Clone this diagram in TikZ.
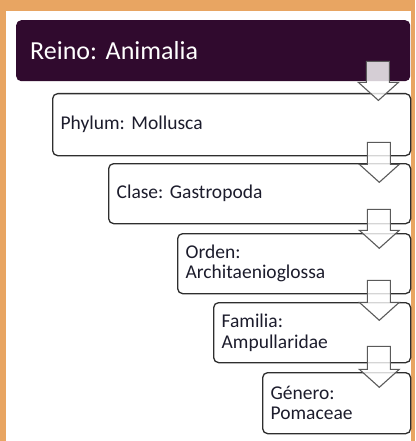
\documentclass[tikz,border=0pt]{standalone}
\usepackage{fontspec}
\setmainfont{Carlito}
\frenchspacing
\usetikzlibrary{calc}
\definecolor{bgorange}{HTML}{E8A562}
\definecolor{reinopurple}{HTML}{300A2E}
\definecolor{boxline}{HTML}{2E2E2E}
\definecolor{txt}{HTML}{1C1C2C}
\definecolor{arrline}{HTML}{5A5A5A}
\newcommand{\taxbox}[6]{% name, left, top, right, bottom, text
  \node[taxstyle, anchor=north west, minimum width={#4-#2}, minimum height={#5-#3},
        text width={#4-#2-16}] (#1) at (#2,#3) {#6};}
\newcommand{\blockarr}[4]{% upper, lower, shaft top offset, head base offset
  \draw[blockarrow]
    ($(#1.south east)+(-44,#3)$) -- ($(#1.south east)+(-21,#3)$)
    -- ($(#1.south east)+(-21,#4)$) -- ($(#1.south east)+(-12,#4)$)
    -- ($(#1.south east)+(-32,#4+18)$)
    -- ($(#1.south east)+(-52,#4)$) -- ($(#1.south east)+(-44,#4)$) -- cycle;}
\begin{document}
\begin{tikzpicture}[x=1pt,y=-1pt,
  taxstyle/.style={draw=boxline, line width=1.3pt, rounded corners=5pt, fill=white,
    inner xsep=8pt, inner ysep=0pt, align=left, text=txt,
    font=\fontsize{19.5}{20.5}\selectfont},
  reinostyle/.style={fill=reinopurple, rounded corners=5pt, inner xsep=14pt, inner ysep=0pt,
    align=left, text=white, font=\fontsize{26}{30}\selectfont},
  blockarrow/.style={draw=arrline, line width=1.1pt, fill=white, fill opacity=0.8, line join=miter}]
\useasboundingbox (0,0) rectangle (415,441);
\fill[bgorange] (0,0) rectangle (415,441);
\fill[white] (6,11) rectangle (411,441);
\node[reinostyle, anchor=north west, minimum width=394, minimum height=61, text width=366]
  (reino) at (16,20) {Reino: Animalia};
\taxbox{phylum}{52}{93}{410}{155}{Phylum: Mollusca}
\taxbox{clase}{108}{163}{410}{223}{Clase: Gastropoda}
\taxbox{orden}{177}{233}{410}{293}{Orden:\\Architaenioglossa}
\taxbox{familia}{213}{302}{410}{362}{Familia:\\Ampullaridae}
\taxbox{genero}{262}{372}{410}{433}{Género:\\Pomaceae}
\blockarr{reino}{phylum}{-20}{1}
\blockarr{phylum}{clase}{-14}{8}
\blockarr{clase}{orden}{-15}{6}
\blockarr{orden}{familia}{-14}{8}
\blockarr{familia}{genero}{-17}{6}
\end{tikzpicture}
\end{document}
